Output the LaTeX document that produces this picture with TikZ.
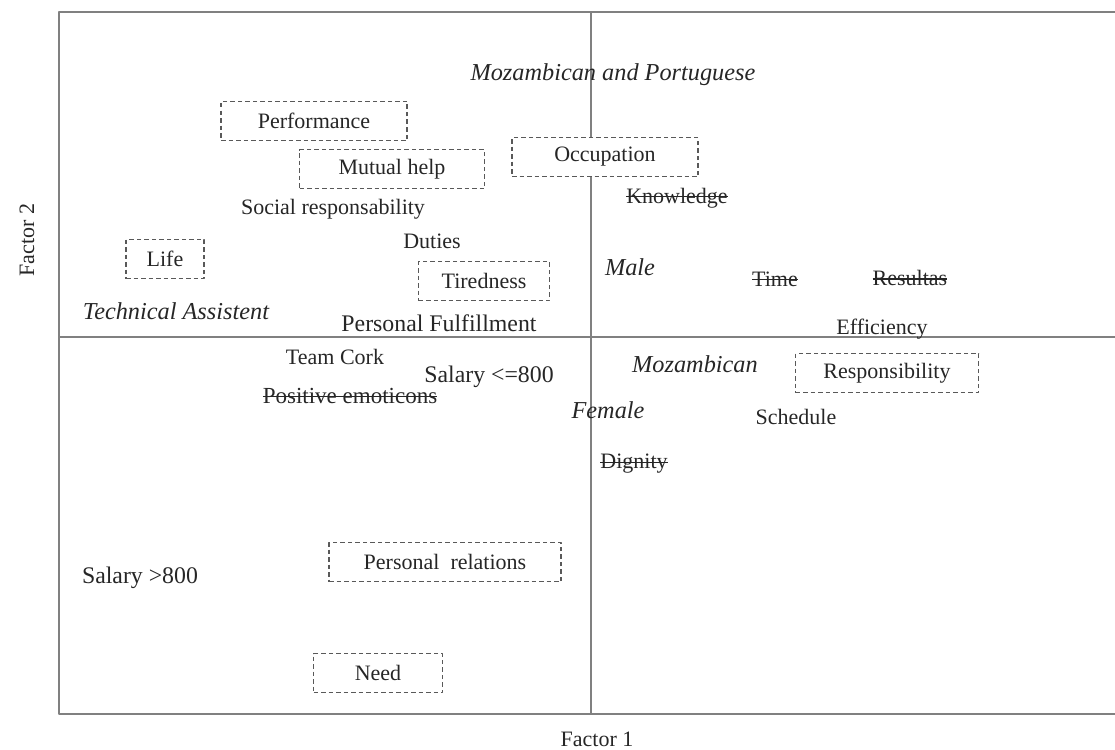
\documentclass[tikz,border=0pt]{standalone}
\usepackage{fontspec}
\setmainfont{Liberation Serif}
\newsavebox{\strkbox}
\newcommand{\strk}[1]{\sbox{\strkbox}{#1}\rlap{\rule[0.27em]{\wd\strkbox}{1.1pt}}\usebox{\strkbox}}
\begin{document}
\begin{tikzpicture}[x=1pt,y=-1pt,line join=round,font=\fontsize{22}{26}\selectfont,
    frame/.style={line width=1.8pt,black!50},
    dbox/.style={draw=black!65,dash pattern=on 4.5pt off 3pt,line width=1.3pt,minimum height=39pt,inner sep=0pt,text=black!85},
    lbl/.style={inner sep=0pt,text=black!85},
    biglbl/.style={lbl,font=\fontsize{23.8}{27}\selectfont},
    ilbl/.style={lbl,font=\fontsize{24.3}{28}\selectfont\itshape}]
  \useasboundingbox (0,0) rectangle (1115,749);
  \path (59,12)coordinate(TL) (1115,12)coordinate(TR) (59,714)coordinate(BL) (1115,714)coordinate(BR)
        (591,12)coordinate(VT) (591,714)coordinate(VB) (59,337)coordinate(HL) (1115,337)coordinate(HR);
  \draw[frame] (TR)--(TL)--(BL)--(BR);
  \draw[frame] (VT)--(VB);
  \draw[frame] (HL)--(HR);
  % boxed categories
  \node[dbox,minimum width=186pt] (perf) at (314,121) {Performance};
  \node[dbox,minimum width=185pt] (mutual) at (392,169) {Mutual help};
  \node[dbox,minimum width=186pt,fill=white] (occup) at (605,157) {Occupation};
  \node[dbox,minimum width=78pt] (life) at (165,259) {Life};
  \node[dbox,minimum width=131pt] (tired) at (484,281) {Tiredness};
  \node[dbox,minimum width=183pt] (resp) at (887,373) {Responsibility};
  \node[dbox,minimum width=232pt] (prel) at (445,562) {Personal\ \ relations};
  \node[dbox,minimum width=129pt] (need) at (378,673) {Need};
  % plain labels
  \node[lbl] (social) at (333,209) {Social responsability};
  \node[lbl] (duties) at (432,241) {Duties};
  \node[biglbl] (fulfil) at (439,323) {Personal Fulfillment};
  \node[lbl] (effic) at (882,329) {Efficiency};
  \node[lbl] (cork) at (335,357) {Team Cork};
  \node[biglbl] (sal1) at (489,377) {Salary <=800};
  \node[lbl] (sched) at (796,417) {Schedule};
  \node[biglbl] (sal2) at (140,578) {Salary >800};
  % struck out labels
  \node[lbl] (know) at (677,198) {\strk{Knowledge}};
  \node[lbl] (time) at (775,279) {\strk{Time}};
  \node[lbl] (result) at (910,278) {\strk{Resultas}};
  \node[lbl,font=\fontsize{23}{27}\selectfont] (posemo) at (350,396) {\strk{Positive emoticons}};
  \node[lbl] (dign) at (634,464) {\strk{Dignity}};
  % italic labels
  \node[ilbl] (mozpor) at (613,75) {Mozambican and Portuguese};
  \node[ilbl] (male) at (630,267) {Male};
  \node[ilbl] (tech) at (176,311) {Technical Assistent};
  \node[ilbl] (moz) at (695,364) {Mozambican};
  \node[ilbl] (female) at (608,410) {Female};
  % axis titles
  \node[lbl] (f1) at (597,739) {Factor 1};
  \node[lbl,rotate=90] (f2) at (27,240) {Factor 2};
\end{tikzpicture}
\end{document}
